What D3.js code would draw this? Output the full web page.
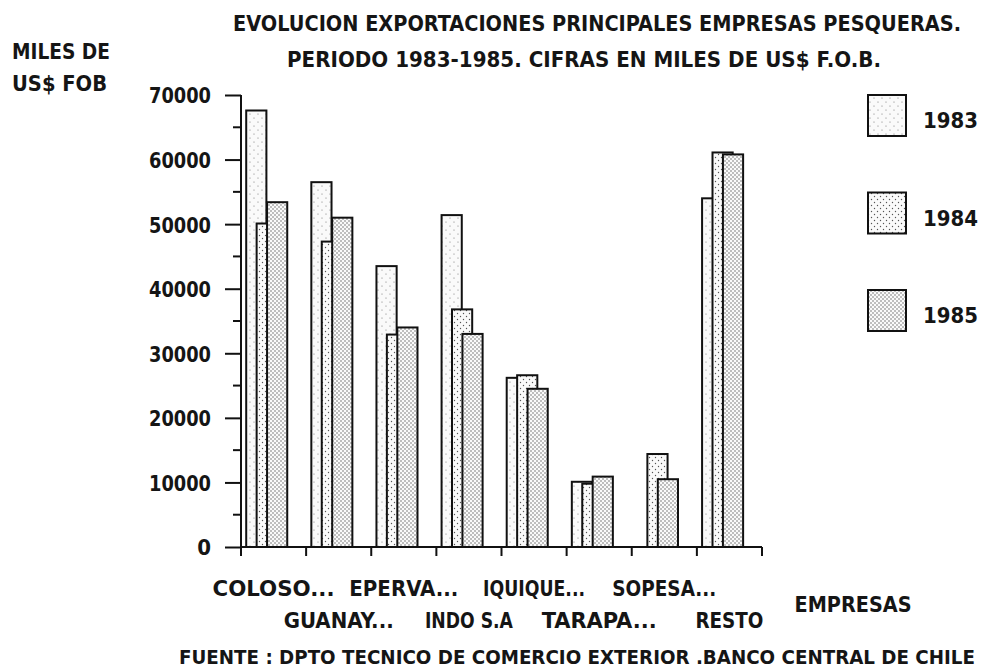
<!DOCTYPE html>
<html><head><meta charset="utf-8">
<script src="https://cdn.jsdelivr.net/npm/d3@7"></script>
<style>
html,body{margin:0;padding:0;background:#fff;}
text{font-family:"DejaVu Sans Condensed","DejaVu Sans",sans-serif;font-weight:bold;fill:#151515;}
</style></head>
<body>
<script>
const categories = ["COLOSO...", "GUANAY...", "EPERVA...", "INDO S.A", "IQUIQUE...", "TARAPA...", "SOPESA...", "RESTO"];
const years = ["1983", "1984", "1985"];
const v1983 = [67600, 56500, 43500, 51400, 26200, 10100, 0, 54000];
const v1984 = [50100, 47300, 32900, 36800, 26600, 9800, 14400, 61100];
const v1985 = [53400, 51000, 34000, 33000, 24500, 10900, 10500, 60800];
const yTicks = [0, 10000, 20000, 30000, 40000, 50000, 60000, 70000];
const titleLines = ["EVOLUCION EXPORTACIONES PRINCIPALES EMPRESAS PESQUERAS.", "PERIODO 1983-1985. CIFRAS EN MILES DE US$ F.O.B."];
const yTitle = ["MILES DE", "US$ FOB"];
const xTitle = "EMPRESAS";
const source = "FUENTE : DPTO TECNICO DE COMERCIO EXTERIOR .BANCO CENTRAL DE CHILE";

const series = [v1983, v1984, v1985];
const W = 985, H = 672;
const svg = d3.select("body").append("svg").attr("width", W).attr("height", H);
svg.append("rect").attr("width", W).attr("height", H).attr("fill", "#fff");

const defs = svg.append("defs");
function pat(id, size, dots, r, col) {
  const p = defs.append("pattern").attr("id", id).attr("patternUnits", "userSpaceOnUse")
    .attr("width", size).attr("height", size);
  p.append("rect").attr("width", size).attr("height", size).attr("fill", "#fafafa");
  dots.forEach(d => p.append("circle").attr("cx", d[0]).attr("cy", d[1]).attr("r", r).attr("fill", col));
}
pat("p0", 8, [[2, 2], [6, 6]], 0.6, "#777");
pat("p1", 6, [[1.5, 1.5], [4.5, 4.5]], 0.7, "#555");
pat("p2", 4, [[1, 1], [3, 3]], 0.7, "#555");

const x0 = 241, x1 = 762, y0 = 547, yTop = 95;
const x = d3.scaleBand().domain(categories).range([x0, x1]).padding(0);
const y = d3.scaleLinear().domain([0, 70000]).range([y0, yTop]);
const bw = x.bandwidth();
const xs = d3.scalePoint().domain(years).range([bw * 0.08, bw * 0.40]);
const barW = bw * 0.31;

years.forEach((yr, si) => {
  svg.append("g").selectAll("rect").data(categories.map((c, i) => ({c, v: series[si][i]})).filter(d => d.v > 0))
    .join("rect")
    .attr("x", d => x(d.c) + xs(yr))
    .attr("y", d => y(d.v))
    .attr("width", barW)
    .attr("height", d => y(0) - y(d.v))
    .attr("fill", `url(#p${si})`)
    .attr("stroke", "#111").attr("stroke-width", 2);
});

const yAxis = d3.axisLeft(y).tickValues(yTicks).tickSize(16).tickPadding(14).tickFormat(d3.format("d"));
const gy = svg.append("g").attr("transform", `translate(${x0},0)`).call(yAxis);
gy.select(".domain").remove();
gy.selectAll(".tick line").attr("stroke", "#111").attr("stroke-width", 2);
gy.selectAll(".tick text").style("font-size", "22px").attr("dy", "0.36em")
  .attr("textLength", d => d === 0 ? null : 62).attr("lengthAdjust", "spacingAndGlyphs");
const minor = d3.range(5000, 70000, 10000);
svg.append("g").selectAll("line").data(minor).join("line")
  .attr("x1", x0 - 8).attr("x2", x0).attr("y1", d => y(d)).attr("y2", d => y(d))
  .attr("stroke", "#111").attr("stroke-width", 2);
svg.append("line").attr("x1", x0).attr("x2", x0).attr("y1", yTop).attr("y2", y0 + 9)
  .attr("stroke", "#111").attr("stroke-width", 2);

svg.append("line").attr("x1", x0).attr("x2", x1).attr("y1", y0).attr("y2", y0)
  .attr("stroke", "#111").attr("stroke-width", 2);
const bounds = categories.map(c => x(c)).concat([x1]);
svg.append("g").selectAll("line").data(bounds).join("line")
  .attr("x1", d => d).attr("x2", d => d).attr("y1", y0).attr("y2", y0 + 9)
  .attr("stroke", "#111").attr("stroke-width", 2);

const labelW = [122, 110, 109, 88, 102, 115, 104, 68];
svg.append("g").selectAll("text").data(categories).join("text")
  .attr("x", d => x(d) + bw / 2)
  .attr("y", (d, i) => i % 2 === 0 ? 596 : 628)
  .attr("text-anchor", "middle")
  .style("font-size", "21px")
  .attr("textLength", (d, i) => labelW[i]).attr("lengthAdjust", "spacingAndGlyphs")
  .text(d => d);

svg.append("text").attr("x", 853).attr("y", 612).attr("text-anchor", "middle").style("font-size", "21px")
  .attr("textLength", 117).attr("lengthAdjust", "spacingAndGlyphs").text(xTitle);

svg.append("text").attr("x", 597).attr("y", 31).attr("text-anchor", "middle").style("font-size", "22px")
  .attr("textLength", 728).attr("lengthAdjust", "spacingAndGlyphs").text(titleLines[0]);
svg.append("text").attr("x", 584).attr("y", 67).attr("text-anchor", "middle").style("font-size", "22px")
  .attr("textLength", 594).attr("lengthAdjust", "spacingAndGlyphs").text(titleLines[1]);
svg.append("text").attr("x", 12).attr("y", 59).style("font-size", "22px")
  .attr("textLength", 98).attr("lengthAdjust", "spacingAndGlyphs").text(yTitle[0]);
svg.append("text").attr("x", 12).attr("y", 91).style("font-size", "22px")
  .attr("textLength", 95).attr("lengthAdjust", "spacingAndGlyphs").text(yTitle[1]);
svg.append("text").attr("x", 577).attr("y", 664).attr("text-anchor", "middle").style("font-size", "20px")
  .attr("textLength", 796).attr("lengthAdjust", "spacingAndGlyphs").text(source);

const ly = d3.scalePoint().domain(years).range([95, 290]);
const lg = svg.append("g");
years.forEach((yr, i) => {
  lg.append("rect").attr("x", 868).attr("y", ly(yr)).attr("width", 38).attr("height", 41)
    .attr("fill", `url(#p${i})`).attr("stroke", "#111").attr("stroke-width", 2);
  lg.append("text").attr("x", 923).attr("y", ly(yr) + 33).style("font-size", "22px")
    .attr("textLength", 55).attr("lengthAdjust", "spacingAndGlyphs").text(yr);
});
</script>
</body></html>
